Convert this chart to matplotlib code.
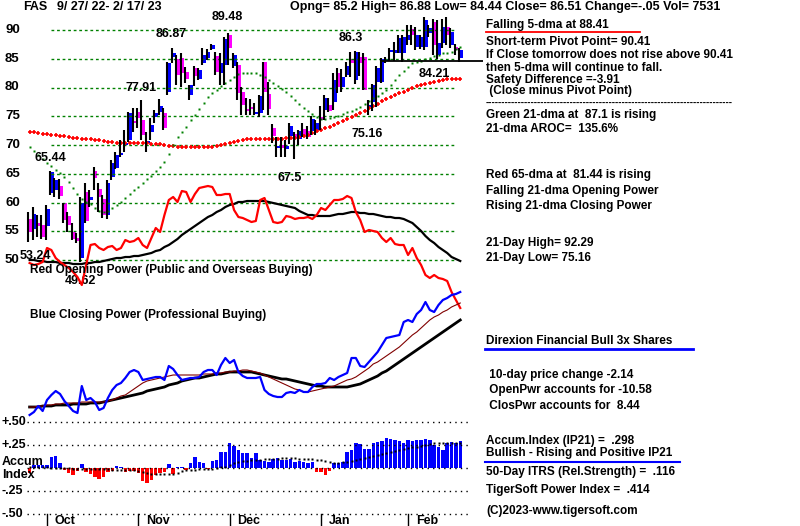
import matplotlib
matplotlib.use("Agg")
import matplotlib.pyplot as plt
import matplotlib.transforms as mtransforms

# ---------------- data ----------------
ticker = "FAS"
date_range = "9/ 27/ 22- 2/ 17/ 23"
quote_line = "Opng= 85.2 High= 86.88 Low= 84.44 Close= 86.51 Change=-.05 Vol= 7531"

opens = [57.1, 55.4, 56.4, 56.1, 55.9, 61.7, 62.2, 62.9, 59.9, 57.7,
         54.9, 53.8, 50.4, 61.8, 60.4, 65.5, 62.4, 60.6, 57.8, 64.4,
         66.0, 68.3, 70.0, 70.9, 74.2, 75.7, 74.3, 70.3, 72.3, 74.9,
         75.7, 75.6, 79.2, 85.3, 85.0, 85.1, 82.7, 78.7, 83.4, 81.5,
         84.3, 85.1, 86.7, 85.5, 82.5, 83.9, 89.1, 83.7, 83.9, 79.2,
         76.3, 76.6, 75.4, 75.6, 84.4, 78.9, 73.0, 69.5, 70.0, 69.3,
         71.6, 71.9, 71.0, 72.8, 72.4, 72.4, 72.6, 74.9, 76.1, 77.0,
         77.5, 82.5, 80.1, 82.2, 85.0, 81.3, 85.3, 85.3, 76.6, 77.5,
         81.0, 81.0, 84.6, 86.2, 86.0, 86.0, 86.0, 88.3, 90.2, 87.0,
         87.0, 87.0, 89.5, 91.4, 85.7, 87.7, 90.5, 87.4, 87.0, 85.2]
highs = [58.3, 59.2, 57.8, 57.8, 59.6, 65.44, 64.3, 64.1, 59.9, 58.4,
         56.4, 54.7, 61.0, 63.4, 62.2, 66.2, 63.4, 61.3, 63.9, 67.4,
         68.8, 70.9, 72.6, 75.7, 76.4, 76.4, 77.91, 72.3, 74.7, 76.1,
         78.0, 76.4, 84.4, 86.87, 85.7, 86.0, 83.6, 80.4, 83.7, 83.4,
         86.9, 86.7, 87.6, 86.2, 86.0, 88.7, 89.48, 86.0, 84.4, 80.1,
         78.2, 78.0, 77.3, 78.7, 84.4, 81.0, 73.7, 71.4, 71.4, 70.9,
         73.8, 72.3, 72.6, 73.8, 73.3, 75.0, 74.4, 76.8, 78.7, 78.2,
         82.5, 83.4, 83.2, 84.4, 86.2, 86.3, 86.2, 86.0, 77.8, 80.6,
         83.7, 85.2, 85.3, 86.9, 88.0, 89.1, 89.1, 90.9, 90.9, 90.5,
         89.1, 92.29, 90.9, 92.0, 91.7, 92.0, 92.2, 90.3, 87.6, 86.88]
lows = [53.1, 53.5, 54.0, 53.6, 53.5, 61.3, 61.0, 60.6, 56.4, 54.9,
        53.5, 53.0, 49.62, 56.4, 59.2, 62.2, 58.4, 57.3, 57.1, 63.9,
        65.8, 67.9, 68.8, 70.5, 72.3, 73.0, 70.9, 68.8, 70.9, 73.8,
        75.2, 72.6, 78.7, 84.3, 80.4, 80.1, 80.8, 77.8, 80.3, 81.3,
        83.9, 84.8, 86.5, 82.2, 80.4, 80.4, 83.9, 83.4, 77.8, 75.2,
        75.2, 75.2, 75.2, 74.9, 76.1, 75.2, 70.3, 67.9, 67.9, 68.0,
        70.2, 67.5, 70.0, 71.4, 71.0, 71.7, 71.7, 72.6, 74.3, 75.7,
        76.1, 79.0, 79.2, 81.8, 81.8, 80.6, 82.0, 79.6, 75.16, 75.9,
        76.6, 80.8, 84.3, 84.6, 84.6, 86.0, 84.4, 87.4, 87.4, 86.5,
        86.7, 86.5, 88.8, 85.6, 85.0, 86.9, 87.4, 86.9, 85.7, 84.44]
closes = [54.9, 58.0, 55.9, 54.0, 58.9, 65.3, 63.9, 61.1, 57.0, 56.1,
          53.7, 53.3, 59.9, 56.8, 61.0, 64.3, 61.0, 57.8, 63.4, 66.9,
          68.3, 68.6, 70.2, 75.6, 73.9, 74.7, 71.7, 70.5, 73.5, 75.6,
          76.8, 73.0, 84.3, 86.0, 82.2, 82.5, 81.5, 80.4, 82.0, 83.0,
          85.7, 86.2, 87.4, 82.7, 84.3, 88.4, 86.9, 85.7, 79.0, 77.0,
          75.9, 76.3, 75.7, 78.5, 79.2, 76.3, 71.6, 69.8, 69.5, 69.8,
          73.3, 71.2, 72.4, 71.7, 71.4, 74.5, 73.8, 74.3, 78.2, 75.9,
          81.3, 80.1, 81.8, 83.7, 84.3, 86.2, 84.3, 79.6, 76.9, 80.4,
          83.4, 85.0, 85.0, 86.5, 86.5, 88.6, 88.8, 89.1, 89.1, 89.1,
          88.8, 91.7, 90.3, 87.4, 87.7, 90.5, 89.1, 89.7, 86.56, 86.51]

ma21 = [69.6, 69.0, 68.3, 67.6, 66.9, 66.3, 65.7, 65.1, 64.4, 63.6,
        62.5, 61.5, 60.6, 60.1, 59.7, 59.0, 58.5, 58.3, 58.5, 59.0,
        59.6, 60.1, 60.8, 61.5, 62.2, 62.7, 63.4, 64.1, 64.6, 65.5,
        66.2, 67.0, 68.4, 70.0, 71.4, 72.3, 73.1, 74.3, 75.2, 76.3,
        77.3, 78.3, 79.0, 79.6, 80.3, 80.8, 81.3, 81.8, 82.3, 82.5,
        82.5, 82.5, 82.5, 82.2, 81.8, 81.3, 80.8, 80.3, 79.7, 79.2,
        78.5, 77.8, 77.1, 76.4, 75.9, 75.4, 74.9, 74.5, 74.5, 74.7,
        74.9, 75.0, 75.4, 75.7, 75.9, 76.3, 76.6, 77.1, 77.7, 78.2,
        78.5, 79.0, 79.6, 80.4, 81.3, 82.2, 82.9, 83.6, 84.3, 84.4,
        84.6, 85.0, 85.1, 85.5, 85.7, 86.0, 86.0, 86.2, 86.7, 87.1]
ma65 = [72.3, 72.2, 72.1, 72.0, 71.9, 71.7, 71.7, 71.6, 71.5, 71.4,
        71.3, 71.2, 71.1, 71.0, 71.0, 70.9, 70.8, 70.7, 70.6, 70.5,
        70.4, 70.4, 70.4, 70.3, 70.3, 70.3, 70.3, 70.3, 70.2, 70.2,
        70.1, 70.0, 69.9, 69.8, 69.7, 69.7, 69.7, 69.7, 69.6, 69.6,
        69.6, 69.7, 69.7, 69.8, 70.0, 70.2, 70.3, 70.5, 70.7, 70.9,
        71.0, 71.0, 71.0, 71.0, 71.0, 71.0, 71.0, 71.1, 71.1, 71.2,
        71.2, 71.3, 71.4, 71.6, 71.8, 72.1, 72.4, 72.6, 72.9, 73.1,
        73.5, 73.8, 74.2, 74.5, 74.9, 75.2, 75.6, 76.0, 76.4, 76.8,
        77.1, 77.6, 78.0, 78.4, 78.7, 79.0, 79.3, 79.6, 79.9, 80.2,
        80.4, 80.6, 80.8, 81.0, 81.1, 81.3, 81.4, 81.4, 81.4, 81.44]

# Opening Power (red) and its moving average (black), arbitrary index units
open_power = [47, 45, 46, 48, 62, 60, 52, 48, 45, 42,
              38, 33, 25, 45, 65, 66, 62, 60, 63, 64,
              60, 62, 70, 68, 69, 72, 65, 62, 72, 82,
              78, 95, 110, 113, 108, 119, 118, 108, 116, 122,
              123, 124, 123, 115, 115, 116, 116, 100, 93, 92,
              90, 88, 89, 110, 112, 100, 88, 87, 88, 94,
              93, 91, 92, 92, 93, 91, 95, 102, 100, 105,
              110, 110, 111, 114, 112, 98, 90, 78, 80, 79,
              78, 72, 68, 72, 66, 65, 65, 55, 62, 52,
              45, 35, 32, 35, 32, 31, 29, 18, 10, 2]
open_power_ma = [50, 50, 49, 49, 48, 48, 48, 47, 47, 47,
                 46, 46, 46, 47, 47, 48, 48, 49, 50, 51,
                 52, 52, 53, 53, 54, 54, 55, 56, 57, 59,
                 60, 63, 65, 68, 71, 75, 78, 81, 84, 87,
                 90, 93, 95, 98, 100, 103, 105, 106, 108, 108,
                 109, 109, 109, 109, 109, 108, 107, 106, 105, 104,
                 103, 102, 99, 97, 95, 95, 94, 94, 94, 94,
                 95, 96, 96, 97, 98, 98, 97, 97, 96, 96,
                 95, 94, 93, 93, 92, 92, 91, 89, 87, 83,
                 79, 74, 70, 67, 63, 60, 57, 53, 51, 49]

# Closing Power (blue), its 21-dma (thin dark red) and long ma (black)
close_power = [5, 8, 14, 9, 20, 25, 29, 26, 19, 14,
               9, 7, 34, 20, 22, 18, 10, 12, 22, 30,
               35, 37, 42, 48, 50, 48, 40, 41, 42, 43,
               43, 40, 54, 51, 45, 40, 41, 42, 42, 43,
               48, 50, 50, 45, 55, 62, 57, 60, 48, 44,
               42, 42, 42, 43, 30, 26, 24, 23, 23, 27,
               28, 27, 30, 28, 28, 33, 36, 36, 37, 42,
               40, 43, 45, 47, 62, 62, 54, 53, 58, 63,
               68, 75, 82, 83, 84, 85, 98, 100, 98, 106,
               110, 118, 110, 108, 115, 120, 122, 125, 126, 128]
close_power_ma21 = [13, 13, 14, 14, 15, 15, 16, 16, 17, 17,
                    17, 17, 18, 18, 18, 18, 18, 18, 19, 20,
                    22, 24, 25, 28, 31, 34, 37, 39, 40, 41,
                    42, 43, 44, 45, 45, 45, 45, 45, 45, 45,
                    46, 46, 46, 47, 47, 48, 48, 49, 49, 50,
                    50, 49, 48, 47, 45, 43, 41, 39, 37, 35,
                    33, 31, 30, 28, 28, 29, 30, 31, 32, 33,
                    34, 36, 38, 40, 41, 43, 46, 49, 52, 56,
                    58, 61, 64, 67, 70, 73, 77, 81, 85, 88,
                    92, 96, 100, 103, 105, 108, 110, 113, 115, 117]
close_power_ma = [13, 13, 13, 14, 14, 14, 15, 15, 15, 15,
                  16, 16, 16, 16, 17, 17, 17, 18, 19, 20,
                  21, 22, 23, 24, 25, 26, 27, 29, 30, 31,
                  32, 33, 35, 36, 37, 39, 40, 41, 42, 42,
                  43, 44, 45, 46, 46, 47, 48, 48, 48, 48,
                  48, 48, 47, 46, 45, 44, 43, 42, 41, 41,
                  40, 39, 38, 37, 36, 35, 34, 34, 33, 33,
                  33, 33, 33, 33, 34, 35, 36, 38, 40, 42,
                  44, 47, 49, 52, 55, 58, 61, 64, 67, 70,
                  73, 76, 79, 82, 85, 88, 91, 94, 97, 100]

ip21 = [-0.047, 0.036, 0.036, 0.036, 0.036, 0.127, 0.134, 0.062, -0.018, -0.054,
        -0.072, -0.025, 0.043, -0.036, -0.062, -0.098, -0.12, -0.098, -0.036, -0.025,
        0.029, 0.018, -0.036, -0.025, -0.025, -0.047, -0.134, -0.156, -0.127, -0.072,
        -0.047, -0.036, 0.043, -0.062, 0.011, 0.018, -0.018, 0.062, 0.127, 0.072,
        0.062, -0.011, 0.08, 0.091, 0.181, 0.181, 0.272, 0.243, 0.199, 0.163,
        0.163, 0.109, 0.17, 0.091, 0.083, 0.072, 0.098, 0.109, 0.091, 0.091,
        0.098, 0.072, 0.083, 0.072, 0.062, 0.072, -0.036, -0.036, -0.072, -0.025,
        0.054, 0.062, 0.072, 0.181, 0.199, 0.272, 0.264, 0.207, 0.207, 0.272,
        0.29, 0.30, 0.326, 0.315, 0.308, 0.30, 0.279, 0.308, 0.30, 0.308,
        0.308, 0.315, 0.308, 0.254, 0.236, 0.199, 0.272, 0.29, 0.272, 0.298]
ip21_ma = [0.018, 0.016, 0.014, 0.011, 0.009, 0.007, 0.005, 0.002, 0.0, 0.0,
           -0.003, -0.005, -0.006, -0.008, -0.009, -0.01, -0.011, -0.012, -0.013, -0.014,
           -0.014, -0.015, -0.016, -0.017, -0.018, -0.027, -0.036, -0.05, -0.062, -0.062,
           -0.062, -0.062, -0.062, -0.062, -0.047, -0.033, -0.018, -0.016, -0.015, -0.013,
           -0.012, -0.011, -0.004, 0.004, 0.011, 0.018, 0.036, 0.054, 0.072, 0.078,
           0.084, 0.09, 0.092, 0.094, 0.096, 0.098, 0.102, 0.105, 0.109, 0.109,
           0.109, 0.109, 0.106, 0.104, 0.101, 0.098, 0.094, 0.09, 0.078, 0.066,
           0.054, 0.06, 0.066, 0.072, 0.083, 0.094, 0.105, 0.116, 0.127, 0.136,
           0.145, 0.154, 0.163, 0.175, 0.188, 0.2, 0.209, 0.218, 0.227, 0.236,
           0.245, 0.254, 0.263, 0.272, 0.272, 0.272, 0.272, 0.272, 0.272, 0.272]

price_levels = [90, 85, 80, 75, 70, 65, 60, 55, 50]
ip_levels = [0.5, 0.25, 0.0, -0.25, -0.5]
ip_labels = ["+.50", "+.25", "", "-.25", "-.50"]
months = ["Oct", "Nov", "Dec", "Jan", "Feb"]
month_start_day = [4, 25, 46, 67, 87]

# (text, day, price, dx px, dy px)
price_notes = [("89.48", 46, 89.48, -2, 16), ("86.87", 33, 86.87, -2, 14),
               ("77.91", 26, 77.91, -2, 12), ("86.3", 75, 86.3, -5, 13),
               ("65.44", 5, 65.44, -1, 13), ("67.5", 61, 67.5, -5, -19),
               ("75.16", 78, 75.16, -2, -19), ("84.21", 93, 84.21, 0, -11),
               ("49.62", 12, 49.62, -1, -19)]
support_level, support_from, support_to = 84.6, 81, 104.2

right_notes = [
    ("Falling 5-dma at 88.41", 25), ("Short-term Pivot Point= 90.41", 42),
    ("If Close tomorrow does not rise above 90.41", 55),
    ("then 5-dma will continue to fall.", 68), ("Safety Difference =-3.91", 80),
    (" (Close minus Pivot Point)", 91),
    ("Green 21-dma at  87.1 is rising", 115), ("21-dma AROC=  135.6%", 129),
    ("Red 65-dma at  81.44 is rising", 175), ("Falling 21-dma Opening Power", 191),
    ("Rising 21-dma Closing Power", 206), ("21-Day High= 92.29", 243),
    ("21-Day Low= 75.16", 258), ("Direxion Financial Bull 3x Shares", 341),
    (" 10-day price change -2.14", 375), (" OpenPwr accounts for -10.58", 390),
    (" ClosPwr accounts for  8.44", 406), ("Accum.Index (IP21) =  .298", 441),
    ("Bullish - Rising and Positive IP21", 453),
    ("50-Day ITRS (Rel.Strength) =  .116", 472),
    ("TigerSoft Power Index =  .414", 490), ("(C)2023-www.tigersoft.com", 511)]

# ---------------- layout (pixel mapping) ----------------
W, H = 800, 526
X0, DX = 29.6, 4.35          # day 0 at x px, px per trading day
P_Y90, P_PX = 30, 5.75       # price 90 at y px, px per price unit
OP_BASE, CP_BASE = 310, 420  # power panels: value 0 at these y px
IP_Y0, IP_PX = 468.3, 92.0   # accum index: 0 at y px, px per unit

plt.rcParams['font.family'] = ['Liberation Sans', 'DejaVu Sans']
plt.rcParams['font.weight'] = 'bold'
FS = 9
FS_NOTE = 8.5

fig = plt.figure(figsize=(8, 5.26), dpi=100)
fig.patch.set_facecolor('white')


def layer(ymin, ymax):
    ax = fig.add_axes([0, 0, 1, 1], facecolor='none')
    ax.set_xlim(-X0 / DX, (W - X0) / DX)
    ax.set_ylim(ymin, ymax)
    ax.axis('off')
    return ax


ax_p = layer(90 - (H - P_Y90) / P_PX, 90 + P_Y90 / P_PX)
ax_op = layer(OP_BASE - H, OP_BASE)
ax_cp = layer(CP_BASE - H, CP_BASE)
ax_ip = layer((IP_Y0 - H) / IP_PX, IP_Y0 / IP_PX)
ax_t = fig.add_axes([0, 0, 1, 1], facecolor='none')
ax_t.set_xlim(0, W)
ax_t.set_ylim(H, 0)
ax_t.axis('off')

days = list(range(len(closes)))
grid_from, grid_to = (51 - X0) / DX, (455 - X0) / DX

# price panel
ax_p.hlines(price_levels, grid_from, grid_to, colors='#008000', lw=1,
            linestyles=(0, (2, 2)))
ax_p.plot(days, ma65, ls='none', marker='+', ms=3.3, mew=1.2, color='#ff0000')
ax_p.plot(days, ma21, ls='none', marker='s', ms=1.7, color='#008000',
          mec='none')
ax_p.vlines([d - 0.3 for d in days], lows, highs, colors='black', lw=1.5)
body_col = ['#0000ff' if c >= o else '#ff00ff' for o, c in zip(opens, closes)]
body_h = [max(abs(c - o), 0.35) for o, c in zip(opens, closes)]
body_b = [min(o, c) for o, c in zip(opens, closes)]
ax_p.bar([d + 0.15 for d in days], body_h, bottom=body_b, width=0.85,
         color=body_col, linewidth=0)
ax_p.hlines(support_level, support_from, support_to, colors='black', lw=1.3)

for txt, d, v, dx, dy in price_notes:
    ax_p.annotate(txt, (d, v), xytext=(dx * 0.72, dy * 0.72),
                  textcoords='offset points', ha='center', va='center',
                  fontsize=FS)

# opening power
ax_op.plot(days, open_power_ma, color='black', lw=1.6)
ax_op.plot(days, open_power, color='#ff0000', lw=1.6)

# closing power
ax_cp.plot(days, close_power_ma, color='black', lw=2.0)
ax_cp.plot(days, close_power_ma21, color='#800000', lw=0.8)
ax_cp.plot(days, close_power, color='#0000ff', lw=1.6)

# accumulation index
ax_ip.hlines(ip_levels, (27 - X0) / DX, (470 - X0) / DX, colors='black',
             lw=1, linestyles=(0, (1, 3)))
ip_col = ['#0000ff' if v >= 0 else '#ff0000' for v in ip21]
ax_ip.bar(days, ip21, width=0.8, color=ip_col, linewidth=0)
ax_ip.plot(days, ip21_ma, ls='none', marker='s', ms=1.8, color='black',
           mec='none')

# axis labels
blend_p = mtransforms.blended_transform_factory(ax_t.transData, ax_p.transData)
for lv in price_levels:
    ax_p.text(5, lv, str(lv), transform=blend_p, va='center', fontsize=FS + 0.5)
ax_t.text(20, 256, "53.24", va='center', fontsize=FS)

blend_i = mtransforms.blended_transform_factory(ax_t.transData, ax_ip.transData)
for lv, lab in zip(ip_levels, ip_labels):
    if lab:
        ax_ip.text(2, lv, lab, transform=blend_i, va='center', fontsize=FS)
ax_t.text(2, 462, "Accum", va='center', fontsize=FS)
ax_t.text(2, 475, "Index", va='center', fontsize=FS)

blend_m = mtransforms.blended_transform_factory(ax_ip.transData, ax_t.transData)
for m, d in zip(months, month_start_day):
    ax_ip.plot([d, d], [514, 526], color='black', lw=1, transform=blend_m)
    ax_ip.text(d + 1.8, 521, m, transform=blend_m, va='center', fontsize=FS)

# header
ax_t.text(23, 7, ticker, va='center', fontsize=FS)
ax_t.text(57, 7, date_range, va='center', fontsize=FS)
ax_t.text(290, 7, quote_line, va='center', fontsize=FS)

# panel captions
ax_t.text(30, 270, "Red Opening Power (Public and Overseas Buying)",
          va='center', fontsize=FS_NOTE)
ax_t.text(30, 315, "Blue Closing Power (Professional Buying)",
          va='center', fontsize=FS_NOTE)

# right side commentary
for txt, y in right_notes:
    ax_t.text(486, y, txt, va='center', fontsize=FS_NOTE)
ax_t.text(486, 103, "-" * 76, va='center', fontsize=7)
ax_t.plot([486, 640], [32, 32], color='#ff0000', lw=1.3)
ax_t.plot([485, 693], [349, 349], color='#0000ff', lw=2)
ax_t.plot([485, 680], [462, 462], color='#0000ff', lw=1.5)

fig.savefig("out.png", dpi=100, facecolor='white')
